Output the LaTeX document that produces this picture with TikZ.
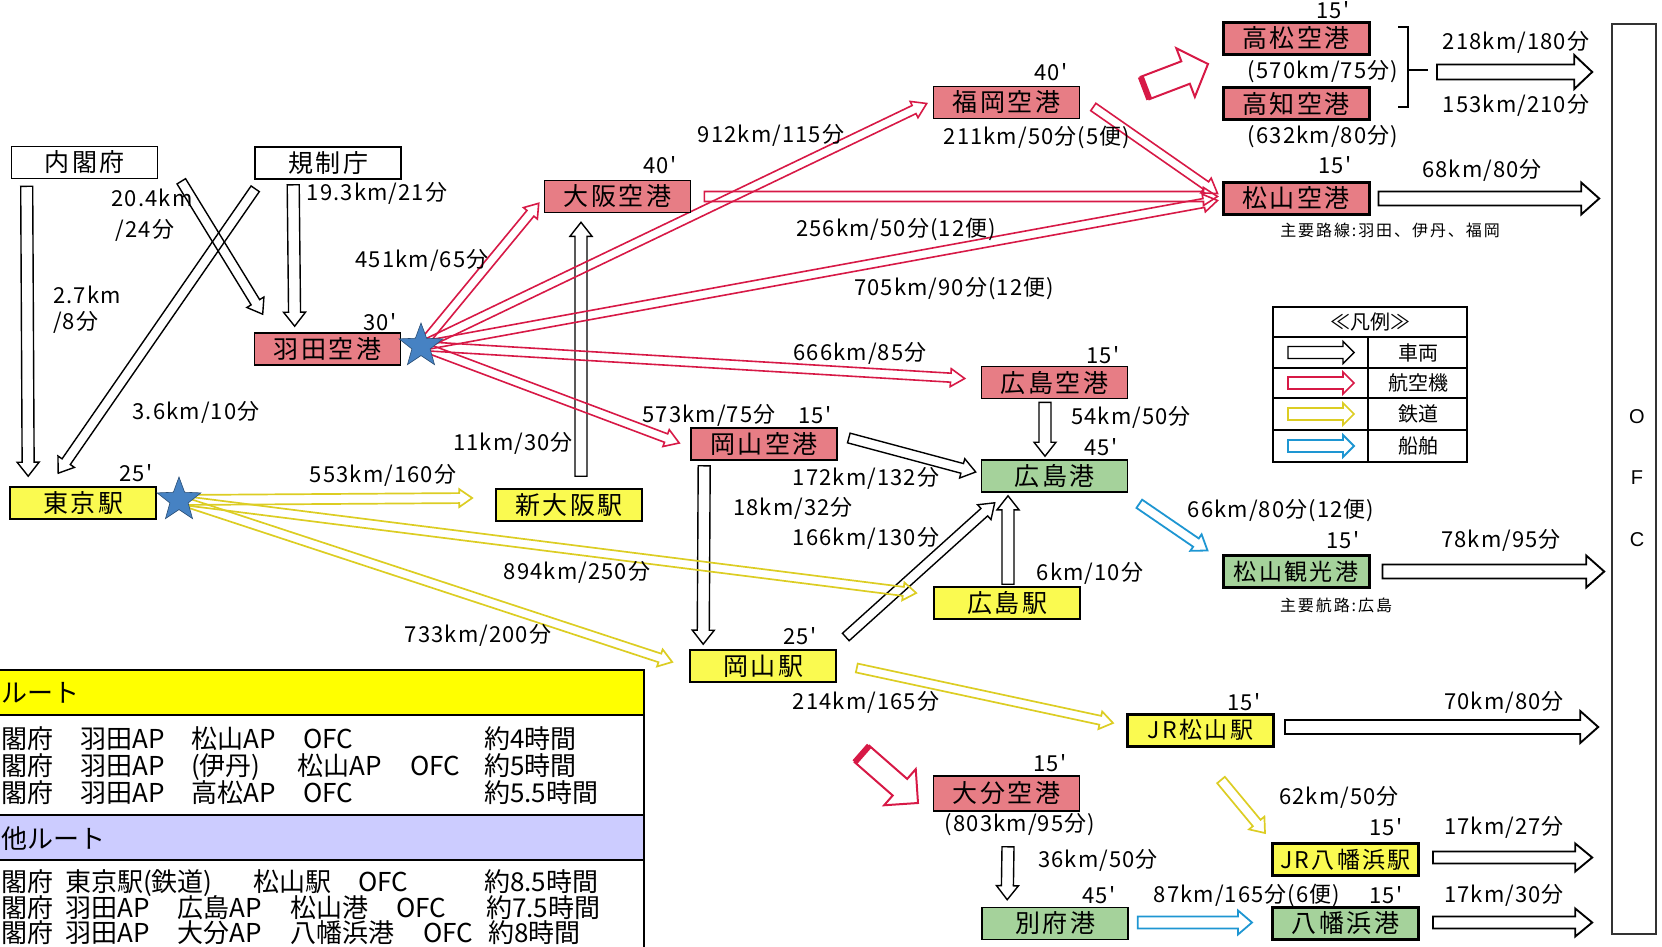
\documentclass[tikz,border=0pt]{standalone}
\usepackage{fontspec}
\setmainfont{Noto Sans CJK JP}
\newfontfamily\lblf[LetterSpace=5]{Noto Sans CJK JP}
\newfontfamily\boxf[LetterSpace=10]{Noto Sans CJK JP}
\newfontfamily\smallf[LetterSpace=12]{Noto Sans CJK JP}
\newfontfamily\tblf{Noto Sans CJK JP}
\newfontfamily\ofcf{Liberation Sans}
\usetikzlibrary{calc,shapes.geometric}
\pgfdeclarelayer{bg}
\pgfsetlayers{bg,main}
\definecolor{apfill}{RGB}{231,125,133}
\definecolor{stfill}{RGB}{250,250,80}
\definecolor{ptfill}{RGB}{165,210,155}
\definecolor{ared}{RGB}{215,25,70}
\definecolor{ryel}{RGB}{220,205,35}
\definecolor{sblue}{RGB}{30,150,210}
\definecolor{starb}{RGB}{70,130,195}
\definecolor{hdyel}{RGB}{255,255,0}
\definecolor{hdlav}{RGB}{204,204,255}
% hollow block arrow: #1 style, #2 from, #3 to, #4 half shaft, #5 half head, #6 head length
\newcommand{\harrow}[6]{%
  \coordinate (hA) at #2;
  \coordinate (hB) at #3;
  \coordinate (hC) at ($(hB)!#6!(hA)$);
  \draw[#1] ($(hA)!#4!90:(hB)$) -- ($(hC)!#4!90:(hB)$) -- ($(hC)!#5!90:(hB)$) -- (hB)
    -- ($(hC)!#5!-90:(hB)$) -- ($(hC)!#4!-90:(hB)$) -- ($(hA)!#4!-90:(hB)$) -- cycle;
}
\tikzset{
 bx/.style={draw=black, line width=1.6pt, minimum width=146pt, minimum height=32pt, inner sep=0pt, font=\boxf\fontsize{25pt}{27pt}\selectfont},
 bxk/.style={bx, line width=3pt},
 jrf/.style={font=\boxf\fontsize{23pt}{25pt}\selectfont},
 lbl/.style={inner sep=0pt, font=\lblf\fontsize{22pt}{24pt}\selectfont},
 sml/.style={inner sep=0pt, font=\smallf\fontsize{16pt}{18pt}\selectfont},
 tbl/.style={inner sep=0pt, anchor=base west, font=\tblf\fontsize{26pt}{28pt}\selectfont},
 lgd/.style={inner sep=0pt, font=\tblf\fontsize{20pt}{22pt}\selectfont},
 car/.style={draw=black, line width=1.4pt},
 carw/.style={draw=black, line width=1.9pt},
 ar/.style={draw=ared, line width=1.6pt},
 yl/.style={draw=ryel, line width=1.7pt},
 bl/.style={draw=sblue, line width=1.8pt},
 fat/.style={draw=ared, line width=2pt},
 stern/.style={star, star points=5, star point ratio=2.4, minimum size=46pt, inner sep=0pt, fill=starb, draw=starb!60!black, line width=0.6pt},
}
\begin{document}
\begin{tikzpicture}[x=1pt,y=-1pt]
\useasboundingbox (0,0) rectangle (1662,947);

% ---------- boxes ----------
\node[bx] (naikaku) at (84.5,162.5) {内閣府};
\node[bx] (kisei) at (328,163) {規制庁};
\node[bx, fill=apfill] (haneda) at (327.5,349) {羽田空港};
\node[bx, fill=stfill] (tokyo) at (83,503) {東京駅};
\node[bx, fill=stfill] (shinosaka) at (569,505) {新大阪駅};
\node[bx, fill=apfill] (osaka) at (617.5,196.5) {大阪空港};
\node[bx, fill=apfill] (fukuoka) at (1006.5,102.5) {福岡空港};
\node[bxk, fill=apfill] (takamatsu) at (1296,38.5) {高松空港};
\node[bxk, fill=apfill] (kochi) at (1296,104) {高知空港};
\node[bxk, fill=apfill] (mapt) at (1296,198.5) {松山空港};
\node[bx, fill=apfill] (hapt) at (1054.5,382.5) {広島空港};
\node[bx, fill=apfill] (okapt) at (764,444) {岡山空港};
\node[bx, fill=ptfill] (hport) at (1054.5,476) {広島港};
\node[bx, fill=stfill] (hst) at (1007,603) {広島駅};
\node[bx, fill=stfill] (okst) at (763,666) {岡山駅};
\node[bxk, jrf, fill=stfill] (jrm) at (1200.5,730) {JR松山駅};
\node[bx, fill=apfill, minimum height=35pt] (oita) at (1006.5,793.5) {大分空港};
\node[bxk, jrf, fill=stfill] (jry) at (1345.5,859.5) {JR八幡浜駅};
\node[bx, fill=ptfill] (beppu) at (1055,923.5) {別府港};
\node[bxk, fill=ptfill] (yport) at (1345.5,923.5) {八幡浜港};
\node[bxk, jrf, fill=ptfill] (mport) at (1296,571.5) {松山観光港};
\node[draw=black!80, line width=1.6pt, minimum width=44pt, minimum height=910pt, inner sep=0pt] (ofc) at (1634,479) {};
\node[inner sep=0pt, font=\ofcf\fontsize{20pt}{22pt}\selectfont] (ofcO) at (1637,417) {O};
\node[inner sep=0pt, font=\ofcf\fontsize{20pt}{22pt}\selectfont] (ofcF) at (1637,478) {F};
\node[inner sep=0pt, font=\ofcf\fontsize{20pt}{22pt}\selectfont] (ofcC) at (1637,540) {C};

% stars
\node[stern] (hstar) at (421,346) {};
\node[stern] (tstar) at (179,500) {};

% bracket
\draw[line width=1.2pt] (1398,27) -- (1408,27) -- (1408,107) -- (1398,107);
\coordinate (brk) at (1428,70);
\draw[line width=1.2pt] (1408,70) -- (brk);

% ---------- labels ----------
\node[lbl] (l1) at (152,198) {20.4km};
\node[lbl] (l2) at (145,230) {/24分};
\node[lbl] (l3) at (377,193) {19.3km/21分};
\node[lbl, anchor=west] (l4) at (53,295) {2.7km};
\node[lbl, anchor=west] (l5) at (53,322) {/8分};
\node[lbl] (l6) at (422,260) {451km/65分};
\node[lbl] (l7) at (380,322) {30'};
\node[lbl] (l8) at (196,412) {3.6km/10分};
\node[lbl] (l9) at (136,473) {25'};
\node[lbl] (l10) at (513,443) {11km/30分};
\node[lbl] (l11) at (383,475) {553km/160分};
\node[lbl] (l12) at (577,572) {894km/250分};
\node[lbl] (l13) at (478,635) {733km/200分};
\node[lbl] (l14) at (660,165) {40'};
\node[lbl] (l15) at (771,135) {912km/115分};
\node[lbl] (l16) at (896,229) {256km/50分(12便)};
\node[lbl] (l17) at (954,288) {705km/90分(12便)};
\node[lbl] (l18) at (860,353) {666km/85分};
\node[lbl] (l19) at (709,415) {573km/75分};
\node[lbl] (l20) at (815,415) {15'};
\node[lbl] (l21) at (1103,355) {15'};
\node[lbl] (l22) at (1131,417) {54km/50分};
\node[lbl] (l23) at (1101,447) {45'};
\node[lbl] (l24) at (866,478) {172km/132分};
\node[lbl] (l25) at (793,508) {18km/32分};
\node[lbl] (l26) at (866,538) {166km/130分};
\node[lbl] (l27) at (1090,573) {6km/10分};
\node[lbl] (l28) at (800,636) {25'};
\node[lbl] (l29) at (866,702) {214km/165分};
\node[lbl] (l30) at (1051,72) {40'};
\node[lbl] (l31) at (1037,137) {211km/50分(5便)};
\node[lbl] (l32) at (1333,10) {15'};
\node[lbl] (l33) at (1323,72) {(570km/75分)};
\node[lbl] (l34) at (1323,137) {(632km/80分)};
\node[lbl] (l35) at (1516,42) {218km/180分};
\node[lbl] (l36) at (1516,105) {153km/210分};
\node[lbl] (l37) at (1335,165) {15'};
\node[lbl] (l38) at (1482,170) {68km/80分};
\node[sml] (l39) at (1390,230) {主要路線:羽田、伊丹、福岡};
\node[lbl] (l40) at (1281,510) {66km/80分(12便)};
\node[lbl] (l41) at (1343,540) {15'};
\node[lbl] (l42) at (1501,540) {78km/95分};
\node[sml] (l43) at (1336,605) {主要航路:広島};
\node[lbl] (l44) at (1244,702) {15'};
\node[lbl] (l45) at (1504,702) {70km/80分};
\node[lbl] (l46) at (1050,763) {15'};
\node[lbl] (l47) at (1020,825) {(803km/95分)};
\node[lbl] (l48) at (1339,797) {62km/50分};
\node[lbl] (l49) at (1386,827) {15'};
\node[lbl] (l50) at (1504,827) {17km/27分};
\node[lbl] (l51) at (1098,860) {36km/50分};
\node[lbl] (l52) at (1099,895) {45'};
\node[lbl] (l53) at (1247,895) {87km/165分(6便)};
\node[lbl] (l54) at (1386,895) {15'};
\node[lbl] (l55) at (1504,895) {17km/30分};

% ---------- legend ----------
\draw[line width=1.4pt] (1273,307) rectangle (1467,462);
\foreach \yy in {337,368,398,430} \draw[line width=1.4pt] (1273,\yy) -- (1467,\yy);
\draw[line width=1.4pt] (1368,337) -- (1368,462);
\node[lgd] (lgh) at (1370,322) {≪凡例≫};
\node[lgd] (lg1) at (1418,352.5) {車両};
\node[lgd] (lg2) at (1418,383) {航空機};
\node[lgd] (lg3) at (1418,414) {鉄道};
\node[lgd] (lg4) at (1418,446) {船舶};
\coordinate (lg1s) at (1288,352.5); \coordinate (lg1e) at (1354,352.5);
\coordinate (lg2s) at (1288,383); \coordinate (lg2e) at (1354,383);
\coordinate (lg3s) at (1288,414); \coordinate (lg3e) at (1354,414);
\coordinate (lg4s) at (1288,446); \coordinate (lg4e) at (1354,446);
\harrow{car}{(lg1s)}{(lg1e)}{6pt}{11pt}{11pt}
\harrow{ar}{(lg2s)}{(lg2e)}{6pt}{11pt}{11pt}
\harrow{yl}{(lg3s)}{(lg3e)}{6pt}{11pt}{11pt}
\harrow{bl}{(lg4s)}{(lg4e)}{6pt}{11pt}{11pt}

% ---------- table ----------
\fill[hdyel] (-5,670) rectangle (644,715);
\fill[white] (-5,715) rectangle (644,815);
\fill[hdlav] (-5,815) rectangle (644,860);
\fill[white] (-5,860) rectangle (644,955);
\draw[line width=2pt] (-5,670) -- (644,670) -- (644,955);
\draw[line width=2pt] (-5,715) -- (644,715);
\draw[line width=2pt] (-5,815) -- (644,815);
\draw[line width=2pt] (-5,860) -- (644,860);
\node[tbl] (th1) at (1,702) {ルート};
\node[tbl] (th2) at (1,848) {他ルート};
\node[tbl] (t11) at (1,748) {閣府};
\node[tbl] (t12) at (80,748) {羽田AP};
\node[tbl] (t13) at (191,748) {松山AP};
\node[tbl] (t14) at (303,748) {OFC};
\node[tbl] (t15) at (484,748) {約4時間};
\node[tbl] (t21) at (1,775) {閣府};
\node[tbl] (t22) at (80,775) {羽田AP};
\node[tbl] (t23) at (191,775) {(伊丹)};
\node[tbl] (t24) at (297,775) {松山AP};
\node[tbl] (t25) at (410,775) {OFC};
\node[tbl] (t26) at (484,775) {約5時間};
\node[tbl] (t31) at (1,802) {閣府};
\node[tbl] (t32) at (80,802) {羽田AP};
\node[tbl] (t33) at (191,802) {高松AP};
\node[tbl] (t34) at (303,802) {OFC};
\node[tbl] (t35) at (484,802) {約5.5時間};
\node[tbl] (t41) at (1,891) {閣府};
\node[tbl] (t42) at (65,891) {東京駅(鉄道)};
\node[tbl] (t43) at (253,891) {松山駅};
\node[tbl] (t44) at (358,891) {OFC};
\node[tbl] (t45) at (484,891) {約8.5時間};
\node[tbl] (t51) at (1,917) {閣府};
\node[tbl] (t52) at (65,917) {羽田AP};
\node[tbl] (t53) at (177,917) {広島AP};
\node[tbl] (t54) at (290,917) {松山港};
\node[tbl] (t55) at (396,917) {OFC};
\node[tbl] (t56) at (486,917) {約7.5時間};
\node[tbl] (t61) at (1,942) {閣府};
\node[tbl] (t62) at (65,942) {羽田AP};
\node[tbl] (t63) at (177,942) {大分AP};
\node[tbl] (t64) at (290,942) {八幡浜港};
\node[tbl] (t65) at (423,942) {OFC};
\node[tbl] (t66) at (488,942) {約8時間};

% ---------- connectors ----------
\begin{pgfonlayer}{bg}
% cars
\harrow{car}{($(naikaku.south west)+(16,7)$)}{($(tokyo.north west)+(19,-10)$)}{6pt}{11pt}{14pt}
\harrow{car}{($(kisei.south west)+(1,9)$)}{($(tokyo.north west)+(49,-13)$)}{5pt}{10pt}{14pt}
\harrow{car}{($(naikaku.south east)+(23,2)$)}{($(haneda.north west)+(9,-18)$)}{5pt}{10pt}{14pt}
\harrow{car}{($(kisei.south west)+(39,5)$)}{($(haneda.north west)+(41,-6)$)}{6pt}{11pt}{14pt}
\harrow{car}{($(shinosaka.north)+(12,-12)$)}{($(osaka.south)+(-36.5,9)$)}{6pt}{11pt}{14pt}
\harrow{car}{($(okapt.east)+(11,-6)$)}{($(hport.west)+(-5,-4)$)}{5pt}{10pt}{14pt}
\harrow{car}{($(okapt.south west)+(14,5)$)}{($(okst.north west)+(14,-5)$)}{6pt}{11pt}{14pt}
\harrow{car}{($(okst.east)+(9,-29)$)}{($(hport.south west)+(14,10)$)}{5pt}{10pt}{14pt}
\harrow{car}{($(hst.north)+(1,-2)$)}{($(hport.south)+(-46.5,3)$)}{6pt}{11pt}{14pt}
\harrow{car}{($(hapt.south)+(-9.5,3)$)}{($(hport.north)+(-9.5,-3)$)}{6pt}{11pt}{14pt}
\harrow{car}{($(oita.south)+(1.5,35)$)}{($(beppu.north west)+(26,-7)$)}{6pt}{11pt}{14pt}
% to OFC
\harrow{carw}{($(brk)+(9,2)$)}{($(ofc.west |- brk)+(-19,2)$)}{7.5pt}{17pt}{18pt}
\harrow{carw}{($(mapt.east)+(8,0)$)}{($(ofc.west |- mapt.east)+(-12,0)$)}{7pt}{16pt}{18pt}
\harrow{carw}{($(mport.east)+(12,0)$)}{($(ofc.west |- mport.east)+(-7,0)$)}{7pt}{16pt}{18pt}
\harrow{carw}{($(jrm.east)+(10,-3)$)}{($(ofc.west |- jrm.east)+(-13,-3)$)}{7pt}{16pt}{18pt}
\harrow{carw}{($(jry.east)+(13,-2)$)}{($(ofc.west |- jry.east)+(-19,-2)$)}{6pt}{14pt}{17pt}
\harrow{carw}{($(yport.east)+(13,-1)$)}{($(ofc.west |- yport.east)+(-19,-1)$)}{6pt}{14pt}{17pt}
% air
\harrow{ar}{(hstar.center)}{($(osaka.south west)+(-5,-10)$)}{4.5pt}{9pt}{13pt}
\harrow{ar}{(hstar.center)}{($(fukuoka.west)+(-6,1)$)}{4.5pt}{9pt}{14pt}
\harrow{ar}{(hstar.center)}{($(mapt.west)+(-4,2)$)}{4.5pt}{9pt}{14pt}
\harrow{ar}{(hstar.center)}{($(hapt.west)+(-16,-4)$)}{4.5pt}{9pt}{14pt}
\harrow{ar}{(hstar.center)}{($(okapt.west)+(-11,-1)$)}{4.5pt}{9pt}{14pt}
\harrow{ar}{($(osaka.east)+(13,0)$)}{($(mapt.west)+(-4,-2)$)}{5pt}{9pt}{14pt}
\harrow{ar}{($(fukuoka.east)+(13,4.5)$)}{($(mapt.west)+(-4,-5)$)}{4.5pt}{9pt}{14pt}
% big red transfer arrows
\coordinate (f1s) at (1145,88); \coordinate (f1e) at (1208,64);
\harrow{fat}{(f1s)}{(f1e)}{12pt}{26pt}{24pt}
\draw[ared, line width=6pt] ($(f1s)!12pt!90:(f1e)$) -- ($(f1s)!12pt!-90:(f1e)$);
\coordinate (f2s) at (862,754); \coordinate (f2e) at (918,803);
\harrow{fat}{(f2s)}{(f2e)}{11pt}{24pt}{24pt}
\draw[ared, line width=6pt] ($(f2s)!11pt!90:(f2e)$) -- ($(f2s)!11pt!-90:(f2e)$);
% rail
\harrow{yl}{(tstar.center)}{($(shinosaka.west)+(-23,-7)$)}{5pt}{9pt}{13pt}
\harrow{yl}{(tstar.center)}{($(hst.west)+(-17,-10)$)}{4.5pt}{9pt}{13pt}
\harrow{yl}{(tstar.center)}{($(okst.west)+(-17,-4)$)}{4.5pt}{9pt}{13pt}
\harrow{yl}{($(okst.east)+(20,2)$)}{($(jrm.west)+(-13,-7)$)}{4.5pt}{9pt}{13pt}
\coordinate (y5s) at (1221,780);
\harrow{yl}{(y5s)}{($(jry.north west)+(-6,-9)$)}{5pt}{10pt}{13pt}
% ship
\harrow{bl}{($(hport.south east)+(11,11)$)}{($(mport.west)+(-14,-21)$)}{5pt}{10pt}{14pt}
\harrow{bl}{($(beppu.east)+(9,-1)$)}{($(yport.west)+(-19,-1)$)}{6pt}{12pt}{14pt}
\end{pgfonlayer}
\end{tikzpicture}
\end{document}
